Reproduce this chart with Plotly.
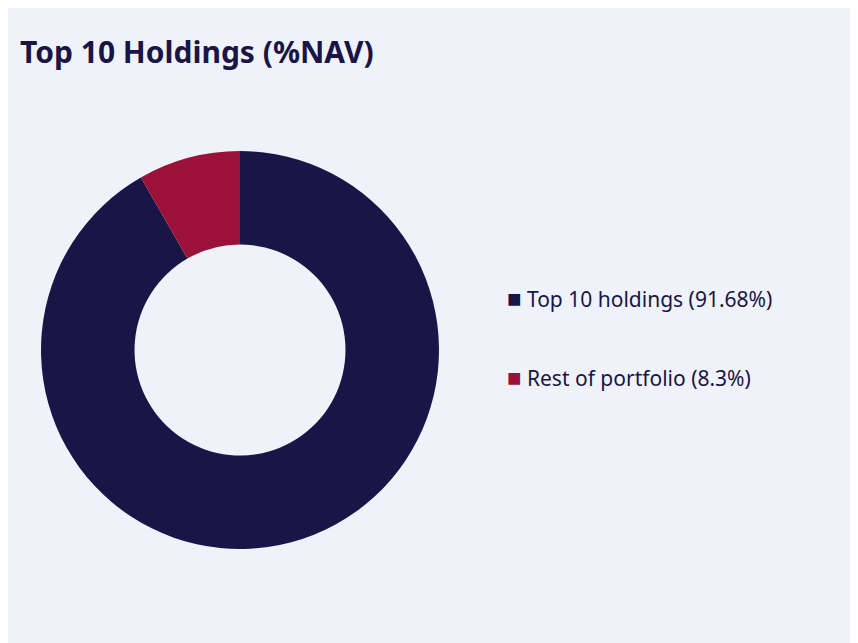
import plotly.graph_objects as go

labels = ["Top 10 holdings (91.68%)", "Rest of portfolio (8.3%)"]
values = [91.68, 8.3]
colors = ["#1a1547", "#9b1139"]

W, H = 858, 643
OFF = 8  # page body margin in the browser

cx, cy, r = 240 - OFF, 350 - OFF, 199

fig = go.Figure()
fig.add_trace(go.Pie(
    labels=labels, values=values, hole=0.53, sort=False,
    direction="clockwise", rotation=0,
    marker=dict(colors=colors, line=dict(width=0)),
    textinfo="none", showlegend=False,
    domain=dict(x=[(cx - r) / W, (cx + r) / W],
                y=[1 - (cy + r) / H, 1 - (cy - r) / H]),
))

for i, (lab, col) in enumerate(zip(labels, colors)):
    y = 1 - (298 - OFF + 78 * i) / H
    fig.add_annotation(x=(505 - OFF) / W, y=y, xref="paper", yref="paper",
                       xanchor="left", yanchor="middle", showarrow=False,
                       text=f"<span style='color:{col};font-size:24px'>■</span> {lab}",
                       font=dict(size=21, color="#1a1547", family="Noto Sans"))

fig.update_layout(
    width=W, height=H,
    margin=dict(l=0, r=0, t=0, b=0),
    paper_bgcolor="#eff3f9", plot_bgcolor="#eff3f9",
    title=dict(text="<b>Top 10 Holdings (%NAV)</b>", x=(20 - OFF) / W, xanchor="left",
               y=1 - (52 - OFF) / H, yanchor="middle",
               font=dict(size=30, color="#1a1547", family="Noto Sans")),
)
fig.write_html("out.html")
